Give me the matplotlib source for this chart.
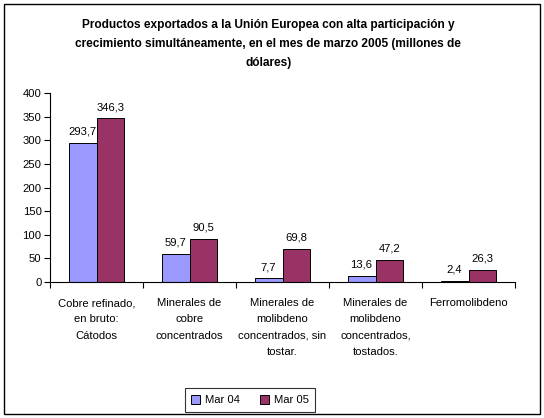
import numpy as np
import matplotlib.pyplot as plt
from matplotlib.patches import Rectangle

plt.rcParams['font.family'] = ['Liberation Sans', 'DejaVu Sans']

categories = ['Cobre refinado,\nen bruto:\nCátodos',
              'Minerales de\ncobre\nconcentrados',
              'Minerales de\nmolibdeno\nconcentrados, sin\ntostar.',
              'Minerales de\nmolibdeno\nconcentrados,\ntostados.',
              'Ferromolibdeno']
mar04 = [293.7, 59.7, 7.7, 13.6, 2.4]
mar05 = [346.3, 90.5, 69.8, 47.2, 26.3]
series_names = ['Mar 04', 'Mar 05']

fig = plt.figure(figsize=(5.44, 4.18), dpi=100)
ax = fig.add_axes([50/544, 1-282/418, 465/544, 189/418])

x = np.arange(len(categories))
w = 0.3
b1 = ax.bar(x - w/2, mar04, w, color='#9999FF', edgecolor='black', linewidth=0.7, label=series_names[0])
b2 = ax.bar(x + w/2, mar05, w, color='#993366', edgecolor='black', linewidth=0.7, label=series_names[1])

for bars, vals in [(b1, mar04), (b2, mar05)]:
    for r, v in zip(bars, vals):
        ax.annotate(f'{v:.1f}'.replace('.', ','), (r.get_x() + r.get_width()/2, v),
                    xytext=(0, 4.5), textcoords='offset points',
                    ha='center', va='bottom', fontsize=8.1)

ax.set_xlim(-0.5, len(categories) - 0.5)
ax.set_ylim(0, 400)
ax.set_yticks(range(0, 401, 50))
ax.set_xticks(np.arange(-0.5, len(categories), 1.0))
ax.set_xticklabels([])
ax.tick_params(axis='both', direction='out', length=4, width=0.8, labelsize=8.1, pad=2)
for s in ['top', 'right']:
    ax.spines[s].set_visible(False)
for s in ['left', 'bottom']:
    ax.spines[s].set_linewidth(0.8)

for i, c in enumerate(categories):
    ax.text(i, -0.085, c, transform=ax.get_xaxis_transform(), ha='center', va='top',
            fontsize=8.1, linespacing=1.78)

fig.text(0.493, 1 - 19/418,
         'Productos exportados a la Unión Europea con alta participación y\n'
         'crecimiento simultáneamente, en el mes de marzo 2005 (millones de\n'
         'dólares)',
         ha='center', va='top', fontsize=8.6, fontweight='bold', linespacing=1.8)

leg = fig.legend(loc='center', bbox_to_anchor=(250/544, 1 - 400/418), ncol=2,
                 fontsize=8.1, frameon=True, fancybox=False, edgecolor='black',
                 handlelength=0.8, handleheight=0.8, handletextpad=0.4,
                 columnspacing=1.8, borderpad=0.6)
leg.get_frame().set_linewidth(0.8)

fig.patches.append(Rectangle((4/544, 4/418), 536/544, 410/418, transform=fig.transFigure,
                             fill=False, edgecolor='black', linewidth=1))

fig.savefig('out.png', dpi=100)
